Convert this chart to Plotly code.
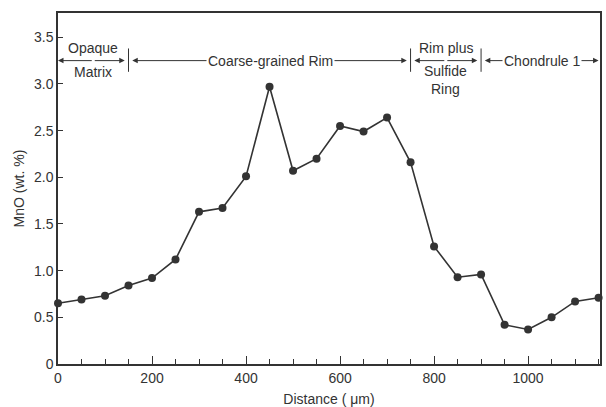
import plotly.graph_objects as go

distance = [0, 50, 100, 150, 200, 250, 300, 350, 400, 450, 500, 550, 600, 650,
            700, 750, 800, 850, 900, 950, 1000, 1050, 1100, 1150]
mno = [0.65, 0.69, 0.73, 0.84, 0.92, 1.12, 1.63, 1.67, 2.01, 2.97, 2.07, 2.20,
       2.55, 2.49, 2.64, 2.16, 1.26, 0.93, 0.96, 0.42, 0.37, 0.50, 0.67, 0.71]

y_ticks = [0, 0.5, 1.0, 1.5, 2.0, 2.5, 3.0, 3.5]
y_ticktext = ["0", "0.5", "1.0", "1.5", "2.0", "2.5", "3.0", "3.5"]
x_ticks = [0, 200, 400, 600, 800, 1000]

boundaries = [0, 150, 750, 900, 1150]
label_centers = [75, 452, 825, 1026]
band_y = 3.25

ink = "#333333"
font = "Liberation Sans, Arial, sans-serif"

fig = go.Figure()
fig.add_trace(go.Scatter(
    x=distance, y=mno, mode="lines+markers",
    line=dict(color=ink, width=1.6),
    marker=dict(color=ink, size=8),
    cliponaxis=False, showlegend=False,
))

ann = []
shapes = []
gap = 8

def arrow(x_from, x_to):
    ann.append(dict(x=x_to, y=band_y, ax=x_from, ay=band_y, xref="x", yref="y",
                    axref="x", ayref="y", text="", showarrow=True,
                    arrowhead=2, arrowsize=1.1, arrowwidth=1, arrowcolor=ink))

for i in range(4):
    lo, hi, c = boundaries[i], boundaries[i + 1], label_centers[i]
    left_end = lo + (gap if i > 0 else 0)
    right_end = hi - (gap if i < 3 else 0)
    arrow(c, left_end)
    arrow(c, right_end)

for b in boundaries[1:4]:
    shapes.append(dict(type="line", xref="x", yref="y", x0=b, x1=b,
                       y0=3.13, y1=3.38, line=dict(color=ink, width=1)))

tf = dict(family=font, size=14, color=ink)
ann.append(dict(x=75, y=3.38, text="Opaque", showarrow=False, font=tf, xref="x", yref="y"))
ann.append(dict(x=75, y=3.13, text="Matrix", showarrow=False, font=tf, xref="x", yref="y"))
ann.append(dict(x=452, y=band_y, text="Coarse-grained Rim", showarrow=False, font=tf,
                bgcolor="white", xref="x", yref="y"))
ann.append(dict(x=825, y=3.38, text="Rim plus", showarrow=False, font=tf, xref="x", yref="y"))
ann.append(dict(x=825, y=3.04, text="Sulfide<br>Ring", showarrow=False, font=tf,
                xref="x", yref="y"))
ann.append(dict(x=1030, y=band_y, text="Chondrule 1", showarrow=False, font=tf,
                bgcolor="white", xref="x", yref="y"))

fig.update_layout(
    width=606, height=407,
    margin=dict(l=58, r=6, t=13, b=43),
    paper_bgcolor="white", plot_bgcolor="white",
    font=dict(family=font, color=ink),
    annotations=ann, shapes=shapes,
    xaxis=dict(range=[0, 1153], tickvals=x_ticks, ticks="inside", ticklen=8,
               tickcolor=ink, showline=True, linecolor=ink, linewidth=1.5,
               mirror=True, showgrid=False, zeroline=False, automargin=False,
               minor=dict(dtick=50, ticks="inside", ticklen=5, tickcolor=ink, showgrid=False),
               tickfont=dict(size=14, color=ink),
               title=dict(text="Distance ( μm)", font=dict(size=14, color=ink), standoff=10)),
    yaxis=dict(range=[0, 3.76], tickvals=y_ticks, ticktext=y_ticktext, ticks="inside",
               ticklen=5, tickcolor=ink, showline=True, linecolor=ink, linewidth=1.5,
               mirror=True, showgrid=False, zeroline=False, automargin=False,
               tickfont=dict(size=14, color=ink),
               title=dict(text="MnO (wt. %)", font=dict(size=14, color=ink), standoff=6)),
)

fig.write_html("out.html", config={"displayModeBar": False},
               post_script="document.body.style.margin='0';document.body.style.overflow='hidden';")
